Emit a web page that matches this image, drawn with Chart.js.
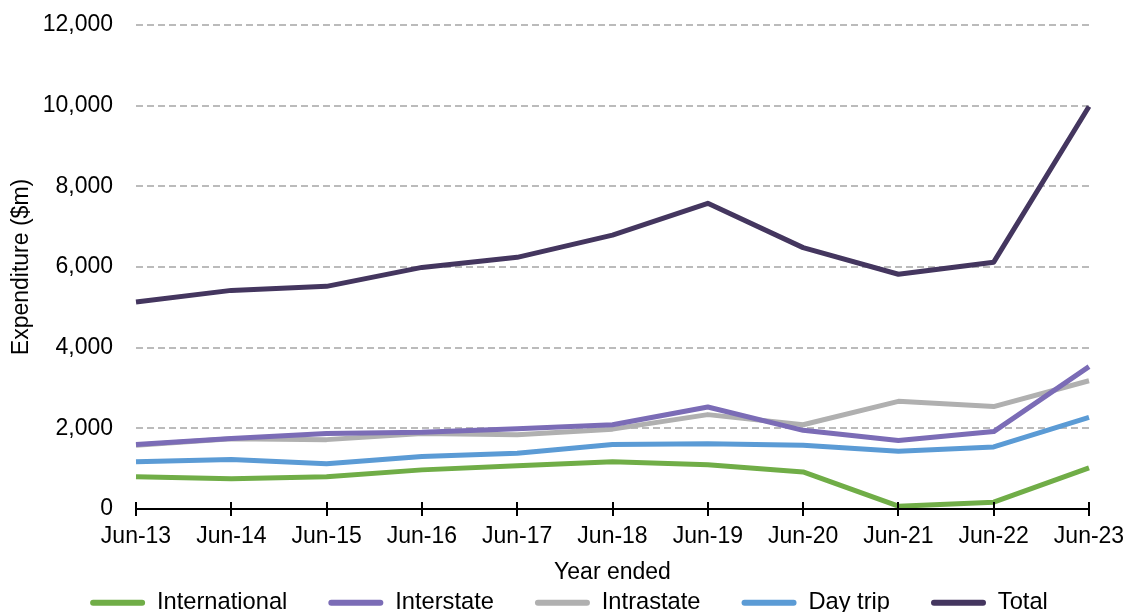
<!DOCTYPE html>
<html>
<head>
<meta charset="utf-8">
<script src="https://cdn.jsdelivr.net/npm/chart.js@4/dist/chart.umd.min.js"></script>
<style>
html,body{margin:0;padding:0;background:#fff;}
#wrap{width:1131px;height:612px;position:relative;}
</style>
</head>
<body>
<div id="wrap"><canvas id="c" width="1131" height="612"></canvas></div>
<script>
const categories = ["Jun-13","Jun-14","Jun-15","Jun-16","Jun-17","Jun-18","Jun-19","Jun-20","Jun-21","Jun-22","Jun-23"];
const international = [800, 750, 800, 970, 1070, 1170, 1100, 920, 70, 170, 1020];
const interstate = [1600, 1750, 1870, 1900, 1990, 2090, 2530, 1950, 1700, 1920, 3530];
const intrastate = [1580, 1740, 1720, 1870, 1840, 1980, 2340, 2090, 2670, 2540, 3180];
const dayTrip = [1170, 1230, 1120, 1300, 1380, 1600, 1620, 1580, 1430, 1540, 2270];
const total = [5130, 5420, 5520, 5990, 6240, 6790, 7580, 6480, 5820, 6120, 9980];
const yTicks = [0, 2000, 4000, 6000, 8000, 10000, 12000];

const FONT = "'Liberation Sans', Arial, sans-serif";
const FS = 23;
const LEGEND_FS = 23.7;
Chart.defaults.font.family = FONT;
Chart.defaults.font.size = FS;
Chart.defaults.color = '#000';

function ds(label, data, color){
  return {label, data, borderColor: color, backgroundColor: color, borderWidth: 5,
    pointRadius: 0, pointHoverRadius: 0, tension: 0, fill: false,
    borderCapStyle: 'butt', borderJoinStyle: 'round'};
}

const LEGEND_PAD = 41;
const LEGEND_BOX_H = 26;
const PAD_LEFT = 7;

const axisDecor = {
  id: 'axisDecor',
  afterLayout(chart){
    const lg = chart.legend;
    if (lg) {
      lg.top = 550;
      lg.bottom = chart.height;
    }
  },
  afterDraw(chart){
    const x = chart.scales.x, y = chart.scales.y;
    const ctx = chart.ctx;
    const y0 = y.getPixelForValue(0);
    ctx.save();
    ctx.strokeStyle = '#000';
    ctx.lineWidth = 2;
    ctx.beginPath();
    ctx.moveTo(x.left, y0); ctx.lineTo(x.right, y0);
    for (let i = 0; i < categories.length; i++){
      const px = Math.round(x.getPixelForValue(i));
      ctx.moveTo(px, y0 - 7); ctx.lineTo(px, y0 + 7);
    }
    ctx.stroke();
    ctx.restore();
  }
};

new Chart(document.getElementById('c'), {
  type: 'line',
  data: {
    labels: categories,
    datasets: [
      ds('International', international, '#70ad47'),
      ds('Interstate', interstate, '#7b6cb6'),
      ds('Intrastate', intrastate, '#b0b0b0'),
      ds('Day trip', dayTrip, '#5b9bd5'),
      ds('Total', total, '#44365f')
    ]
  },
  options: {
    responsive: false,
    animation: false,
    events: [],
    layout: {padding: {top: 0, right: 0, left: PAD_LEFT, bottom: 0}},
    plugins: {
      tooltip: {enabled: false},
      legend: {
        position: 'bottom',
        align: 'center',
        maxHeight: LEGEND_BOX_H,
        labels: {
          boxWidth: 55, boxHeight: 6, padding: LEGEND_PAD,
          useBorderRadius: true, borderRadius: 3,
          font: {size: LEGEND_FS, family: FONT}, color: '#000',
          generateLabels(chart){
            return chart.data.datasets.map((d, i) => ({
              text: d.label, fillStyle: d.borderColor, strokeStyle: d.borderColor,
              lineWidth: 0, borderRadius: 3, datasetIndex: i, hidden: false
            }));
          }
        }
      }
    },
    scales: {
      x: {
        offset: false,
        grid: {display: false, drawTicks: false},
        border: {display: false},
        ticks: {padding: 14, maxRotation: 0, autoSkip: false, font: {size: FS, family: FONT}, color: '#000'},
        title: {display: true, text: 'Year ended', font: {size: FS, family: FONT}, color: '#000', padding: {top: 0, bottom: 0}},
        afterFit(axis){ axis.height = 77; axis.paddingRight = 42; }
      },
      y: {
        min: 0, max: 12000,
        afterBuildTicks(axis){ axis.ticks = yTicks.map(v => ({value: v})); },
        grid: {
          drawTicks: false,
          lineWidth: 2,
          color: ctx => ctx.tick && ctx.tick.value === 0 ? 'rgba(0,0,0,0)' : '#bbbbbb'
        },
        border: {display: false, dash: [7, 4]},
        ticks: {padding: 23, font: {size: FS, family: FONT}, color: '#000',
          callback: v => Number(v).toLocaleString('en-US')},
        title: {display: true, text: 'Expenditure ($m)', font: {size: FS, family: FONT}, color: '#000', padding: {top: 1, bottom: 0}},
        afterFit(axis){ axis.width = 136 - PAD_LEFT; axis.paddingTop = 25; }
      }
    }
  },
  plugins: [axisDecor]
});
</script>
</body>
</html>
